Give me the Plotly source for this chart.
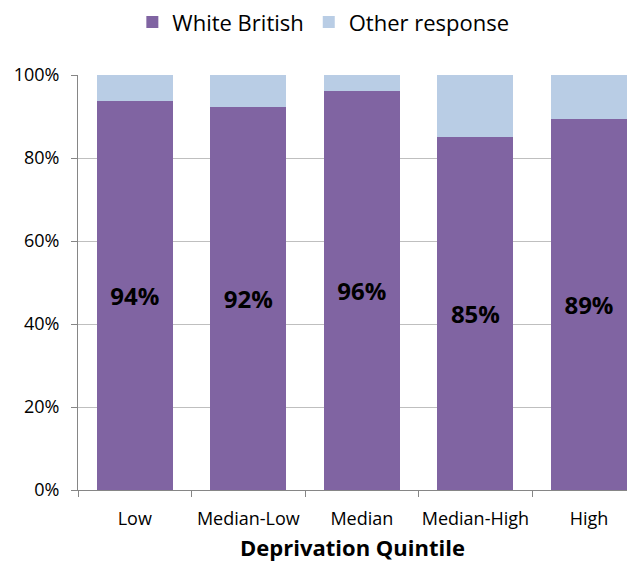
import plotly.graph_objects as go

categories = ["Low", "Median-Low", "Median", "Median-High", "High"]
white_british = [93.8, 92.3, 96.2, 85.0, 89.4]
other_response = [6.2, 7.7, 3.8, 15.0, 10.6]
labels = ["94%", "92%", "96%", "85%", "89%"]
y_ticks = [0, 20, 40, 60, 80, 100]
y_tick_text = ["0%", "20%", "40%", "60%", "80%", "100%"]

FONT = "Open Sans"

fig = go.Figure()
fig.add_trace(go.Bar(
    x=categories, y=white_british, name="White British",
    marker=dict(color="#8064A2", line=dict(width=0)),
    text=labels, textposition="inside", insidetextanchor="middle",
    textangle=0,
    textfont=dict(family=FONT, size=24, color="black", weight="bold"),
    hoverinfo="skip",
))
fig.add_trace(go.Bar(
    x=categories, y=other_response, name="Other response",
    marker=dict(color="#B9CDE5", line=dict(width=0)),
    hoverinfo="skip",
))

fig.update_layout(
    barmode="stack",
    bargap=0.33,
    width=638, height=566,
    margin=dict(l=70, r=19, t=67, b=84, autoexpand=False),
    paper_bgcolor="white", plot_bgcolor="white",
    font=dict(family=FONT, color="black"),
    showlegend=True,
    legend=dict(
        orientation="h", x=0.099, y=1.127, xanchor="left", yanchor="middle",
        font=dict(family=FONT, size=22, color="black"),
        itemwidth=30, traceorder="normal",
    ),
    uniformtext=dict(mode=False),
)

fig.update_xaxes(
    type="category", range=[-0.5, 4.335], automargin=False,
    tickson="boundaries", ticks="outside", ticklen=6, tickcolor="#868686",
    tickangle=0, ticklabelstandoff=12,
    showline=True, linecolor="#868686", linewidth=1,
    showgrid=False,
    tickfont=dict(family=FONT, size=18, color="black"),
    title=dict(text="<b>Deprivation Quintile</b>", font=dict(family=FONT, size=22, color="black"), standoff=12),
)
fig.update_yaxes(
    range=[0, 100], tickvals=y_ticks, ticktext=y_tick_text, automargin=False,
    ticks="outside", ticklen=6, tickcolor="#868686", ticklabelstandoff=8,
    showline=True, linecolor="#868686", linewidth=1,
    showgrid=True, gridcolor="#BFBFBF", gridwidth=1,
    zeroline=False,
    tickfont=dict(family=FONT, size=18, color="black"),
)

fig.write_html("out.html")
